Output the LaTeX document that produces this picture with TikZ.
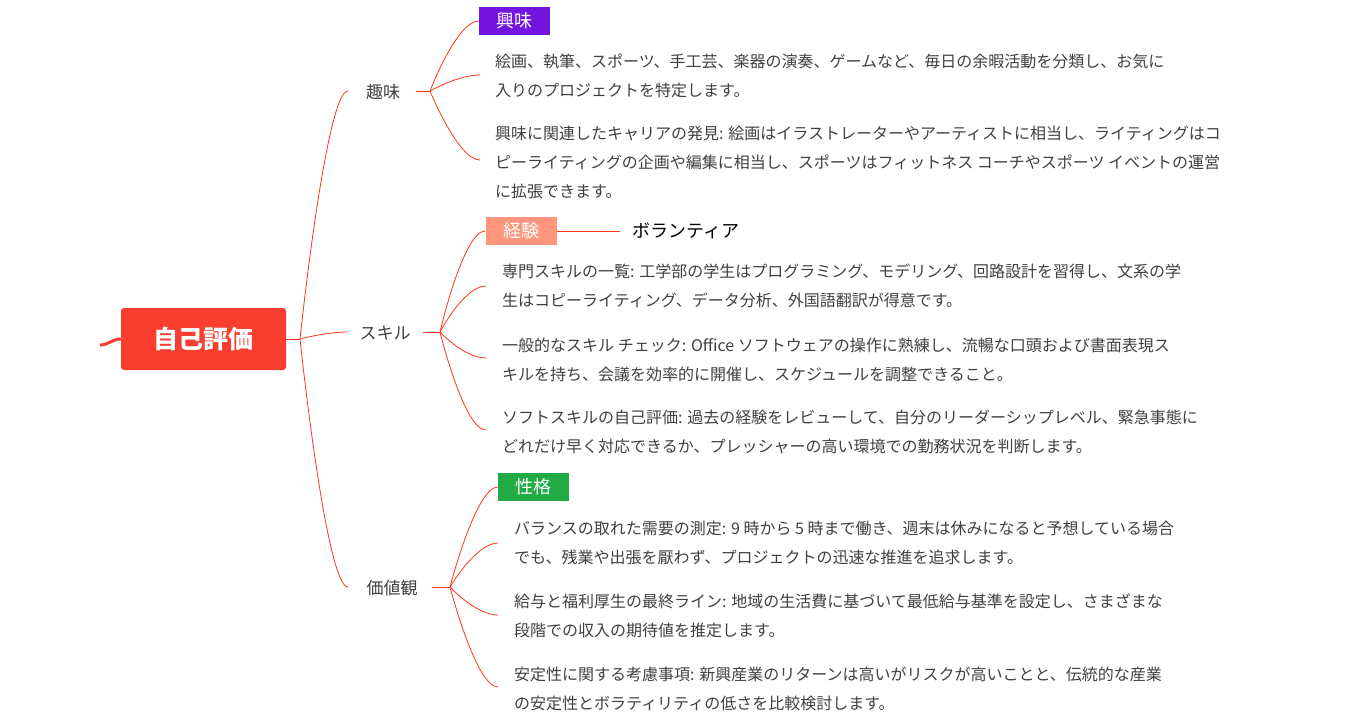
\documentclass[tikz,border=0pt]{standalone}
\usepackage{fontspec}
\setmainfont{Noto Sans CJK JP}
\begin{document}
\begin{tikzpicture}[x=1pt,y=-1pt,
  ln/.style={draw=red!75!orange!90, line width=0.8pt},
  txt/.style={anchor=west, inner sep=0pt, align=left, text=black!75, font=\fontsize{16}{29}\selectfont},
  mid/.style={inner sep=0pt, text=black!75, font=\fontsize{17}{20}\selectfont},
  tag/.style={inner sep=0pt, minimum width=71pt, minimum height=28pt, text=white, font=\fontsize{18}{20}\selectfont}]
\useasboundingbox (0,0) rectangle (1350,725);
\definecolor{rootc}{HTML}{F93E2F}
% root
\node[fill=rootc, rounded corners=3pt, minimum width=165pt, minimum height=62pt, inner sep=0pt, text=white, font=\fontsize{25}{28}\selectfont\bfseries] (root) at (203.5,339) {自己評価};
\coordinate (stub) at (100,345);
\draw[draw=rootc, line width=3pt] (stub) to[out=0,in=180] (root.west);
\coordinate (rj) at (300,339);
\draw[ln] (root.east) -- (rj);
% mid nodes
\node[mid] (m1) at (383,92) {趣味};
\node[mid] (m2) at (385,333) {スキル};
\node[mid] (m3) at (392,588) {価値観};
\coordinate (m1l) at (348,91); \coordinate (m2l) at (348,332); \coordinate (m3l) at (348,587);
\foreach \e in {m1l,m2l,m3l} \draw[ln] (rj) .. controls (rj) and ([xshift=-22pt]\e) .. (\e);
\coordinate (j1) at (430,91); \coordinate (j2) at (440,332); \coordinate (j3) at (450,587);
\draw[ln] (416,91) -- (j1);
\draw[ln] (423,332) -- (j2);
\draw[ln] (432,587) -- (j3);
% tags
\node[tag, fill={rgb,255:red,115;green,20;blue,224}] (t1) at (514.5,21) {興味};
\node[tag, fill={rgb,255:red,255;green,150;blue,125}] (t2) at (521,231) {経験};
\node[tag, fill={rgb,255:red,34;green,170;blue,68}] (t3) at (533.5,487) {性格};
\node[anchor=west, inner sep=0pt, font=\fontsize{18}{20}\selectfont, text=black] (vol) at (632,231) {ボランティア};
\draw[ln] (t2.east) -- (620,231);
% texts
\node[txt] (a1) at (495,76) {絵画、執筆、スポーツ、手工芸、楽器の演奏、ゲームなど、毎日の余暇活動を分類し、お気に\\入りのプロジェクトを特定します。};
\node[txt] (a2) at (495,162) {興味に関連したキャリアの発見: 絵画はイラストレーターやアーティストに相当し、ライティングはコ\\ピーライティングの企画や編集に相当し、スポーツはフィットネス コーチやスポーツ イベントの運営\\に拡張できます。};
\node[txt] (b1) at (502,286) {専門スキルの一覧: 工学部の学生はプログラミング、モデリング、回路設計を習得し、文系の学\\生はコピーライティング、データ分析、外国語翻訳が得意です。};
\node[txt] (b2) at (502,360) {一般的なスキル チェック: Office ソフトウェアの操作に熟練し、流暢な口頭および書面表現ス\\キルを持ち、会議を効率的に開催し、スケジュールを調整できること。};
\node[txt] (b3) at (502,432) {ソフトスキルの自己評価: 過去の経験をレビューして、自分のリーダーシップレベル、緊急事態に\\どれだけ早く対応できるか、プレッシャーの高い環境での勤務状況を判断します。};
\node[txt] (c1) at (514,543) {バランスの取れた需要の測定: 9 時から 5 時まで働き、週末は休みになると予想している場合\\でも、残業や出張を厭わず、プロジェクトの迅速な推進を追求します。};
\node[txt] (c2) at (514,616) {給与と福利厚生の最終ライン: 地域の生活費に基づいて最低給与基準を設定し、さまざまな\\段階での収入の期待値を推定します。};
\node[txt] (c3) at (514,689) {安定性に関する考慮事項: 新興産業のリターンは高いがリスクが高いことと、伝統的な産業\\の安定性とボラティリティの低さを比較検討します。};
% connectors
\coordinate (e11) at (480,75); \coordinate (e12) at (480,160);
\coordinate (e21) at (486,286); \coordinate (e22) at (486,358); \coordinate (e23) at (486,430);
\coordinate (e31) at (498,543); \coordinate (e32) at (498,615); \coordinate (e33) at (498,687);
\draw[ln] (j1) .. controls (j1) and ([xshift=-22pt]t1.west) .. (t1.west);
\foreach \e in {e11,e12} \draw[ln] (j1) .. controls (j1) and ([xshift=-22pt]\e) .. (\e);
\draw[ln] (j2) .. controls (j2) and ([xshift=-22pt]t2.west) .. (t2.west);
\foreach \e in {e21,e22,e23} \draw[ln] (j2) .. controls (j2) and ([xshift=-22pt]\e) .. (\e);
\draw[ln] (j3) .. controls (j3) and ([xshift=-22pt]t3.west) .. (t3.west);
\foreach \e in {e31,e32,e33} \draw[ln] (j3) .. controls (j3) and ([xshift=-22pt]\e) .. (\e);
\end{tikzpicture}
\end{document}
